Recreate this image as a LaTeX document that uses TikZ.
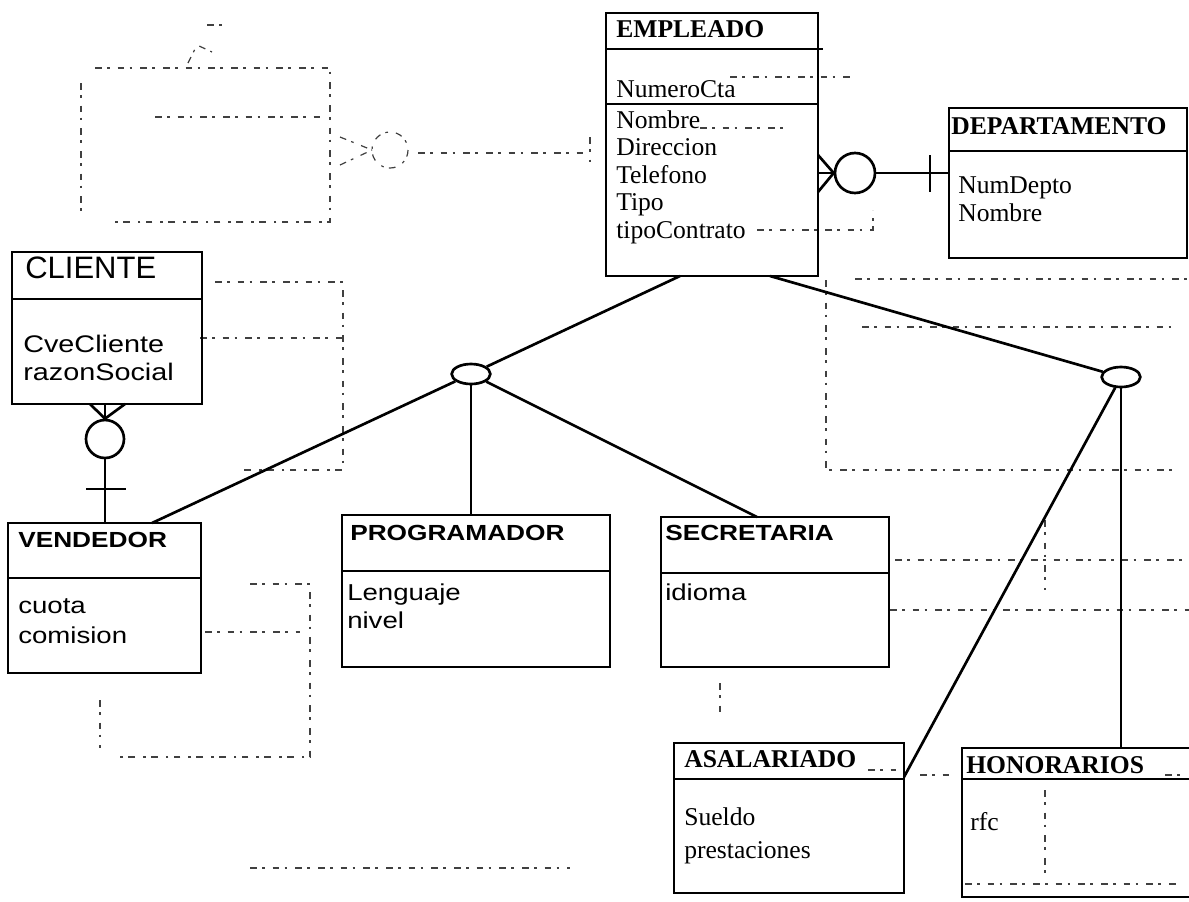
\documentclass[tikz,border=0pt]{standalone}
\usepackage{fontspec}
\setmainfont{Liberation Serif}
\newfontfamily\sansw[FakeStretch=1.2]{Liberation Sans}
\newfontfamily\sansn{Liberation Sans}
\usetikzlibrary{fit,shapes.geometric}

\tikzset{
  ent/.style={draw, line width=2pt, inner sep=0pt, rectangle},
  sepline/.style={line width=1.8pt},
  conn/.style={line width=2pt},
  joint/.style={draw, ellipse, line width=2pt, inner sep=0pt, minimum width=29pt, minimum height=15pt},
  ring/.style={draw, circle, line width=2pt, inner sep=0pt},
  tser/.style={anchor=base west, inner sep=0pt, font=\fontsize{19.2}{23}\selectfont},
  tserb/.style={anchor=base west, inner sep=0pt, font=\fontsize{19.2}{23}\selectfont\bfseries},
  tsan/.style={anchor=base west, inner sep=0pt, font=\sansw\fontsize{17.25}{21}\selectfont},
  tsanb/.style={anchor=base west, inner sep=0pt, font=\sansw\bfseries\fontsize{16.4}{20}\selectfont},
  ghost/.style={line width=0.9pt, black!75, dash pattern=on 5pt off 4pt on 2pt off 6pt},
}

\begin{document}
\begin{tikzpicture}[x=0.75pt,y=-0.75pt]
\useasboundingbox (0,0) rectangle (1189,901);
\begin{scope}
\clip (0,0) rectangle (1189,901);

% ---------- faint dashed traces ----------
% upper left frame with ring and foot
\draw[ghost] (95,68) -- (330,68) -- (330,222) -- (113,222);
\draw[ghost] (81,83) -- (81,212);
\draw[ghost] (155,117) -- (325,117);
\draw[ghost] (188,63) -- (197,45) -- (212,52);
\draw[ghost] (207,25) -- (225,25);
\draw[ghost] (340,137) -- (372,150);
\draw[ghost] (340,165) -- (372,150);
\draw[ghost] (390,150) circle[radius=18];
\draw[ghost] (418,153) -- (588,153);
\draw[ghost] (590,137) -- (590,162);
% frame beside CLIENTE
\draw[ghost] (215,282) -- (343,282) -- (343,470) -- (240,470);
\draw[ghost] (200,338) -- (343,338);
% frame beside VENDEDOR
\draw[ghost] (250,584) -- (310,584) -- (310,757) -- (118,757);
\draw[ghost] (205,632) -- (300,632);
\draw[ghost] (100,700) -- (100,748);
% frame on the right
\draw[ghost] (855,279) -- (1189,279);
\draw[ghost] (826,280) -- (826,470) -- (1178,470);
\draw[ghost] (862,327) -- (1178,327);
\draw[ghost] (895,560) -- (1189,560);
\draw[ghost] (890,610) -- (1189,610);
\draw[ghost] (1045,520) -- (1045,590);
% traces next to EMPLEADO
\draw[ghost] (730,77) -- (850,77);
\draw[ghost] (700,128) -- (790,128);
\draw[ghost] (757,230) -- (873,230) -- (873,210);
% lower traces
\draw[ghost] (250,868) -- (570,868);
\draw[ghost] (720,683) -- (720,712);
\draw[ghost] (868,770) -- (896,770);
\draw[ghost] (920,775) -- (952,775);
\draw[ghost] (1165,775) -- (1185,775);
\draw[ghost] (1045,790) -- (1045,875);
\draw[ghost] (965,884) -- (1180,884);

% ---------- entity boxes ----------
\node[ent, fit={(606,13) (818,276)}] (emp) {};
\draw[sepline] (606,49) -- (823,49);
\draw[sepline] (606,104) -- (818,104);

\node[ent, fit={(949,108) (1187,258)}] (dep) {};
\draw[sepline] (949,151) -- (1187,151);

\node[ent, fit={(12,252) (202,404)}] (cli) {};
\draw[sepline] (12,299) -- (202,299);

\node[ent, fit={(8,523) (201,673)}] (ven) {};
\draw[sepline] (8,578) -- (201,578);

\node[ent, fit={(342,515) (610,667)}] (prog) {};
\draw[sepline] (342,571) -- (610,571);

\node[ent, fit={(661,517) (889,667)}] (sec) {};
\draw[sepline] (661,573) -- (889,573);

\node[ent, fit={(674,743) (904,893)}] (asa) {};
\draw[sepline] (674,779) -- (904,779);

\node[ent, fit={(962,748) (1196,897)}] (hon) {};
\draw[sepline] (962,779) -- (1196,779);

% ---------- texts ----------
\node[tserb] (empT) at (616,37) {EMPLEADO};
\node[tser] (empK) at (616,97) {NumeroCta};
\node[tser] (empA1) at (616,128) {Nombre};
\node[tser] (empA2) at (616,155.5) {Direccion};
\node[tser] (empA3) at (616,183) {Telefono};
\node[tser] (empA4) at (616,210.5) {Tipo};
\node[tser] (empA5) at (616,238) {tipoContrato};

\node[tserb] (depT) at (951,134) {DEPARTAMENTO};
\node[tser] (depA1) at (958,193) {NumDepto};
\node[tser] (depA2) at (958,221) {Nombre};

\node[anchor=base west, inner sep=0pt, font=\sansn\fontsize{23.25}{27}\selectfont] (cliT) at (25,278) {CLIENTE};
\node[tsan, font=\sansw\fontsize{18}{21}\selectfont] (cliA1) at (23,352) {CveCliente};
\node[tsan, font=\sansw\fontsize{18}{21}\selectfont] (cliA2) at (23,380) {razonSocial};

\node[tsanb] (venT) at (18,547) {VENDEDOR};
\node[tsan] (venA1) at (18,613) {cuota};
\node[tsan] (venA2) at (18,643) {comision};

\node[tsanb] (progT) at (350,540) {PROGRAMADOR};
\node[tsan] (progA1) at (347,600) {Lenguaje};
\node[tsan] (progA2) at (347,628) {nivel};

\node[tsanb] (secT) at (665,540) {SECRETARIA};
\node[tsan] (secA1) at (665,600) {idioma};

\node[tserb] (asaT) at (684,767) {ASALARIADO};
\node[tser] (asaA1) at (684,825) {Sueldo};
\node[tser] (asaA2) at (684,858) {prestaciones};

\node[tserb] (honT) at (966,773) {HONORARIOS};
\node[tser] (honA1) at (970,830) {rfc};

% ---------- EMPLEADO -- DEPARTAMENTO relationship ----------
\node[ring, minimum size=30pt] (r1) at (855,173) {};
\coordinate (r1a) at (818,155);
\coordinate (r1b) at (818,173);
\coordinate (r1c) at (818,192);
\draw[conn] (r1a) -- (r1.west);
\draw[conn] (r1b) -- (r1.west);
\draw[conn] (r1c) -- (r1.west);
\draw[conn] (r1.east) -- (dep.west |- r1.east);
\draw[conn] (930,155) -- (930,192);

% ---------- CLIENTE -- VENDEDOR relationship ----------
\node[ring, minimum size=28.5pt] (r2) at (105,439) {};
\coordinate (r2a) at (90,404);
\coordinate (r2b) at (105,404);
\coordinate (r2c) at (125,404);
\draw[conn] (r2a) -- (r2.north);
\draw[conn] (r2b) -- (r2.north);
\draw[conn] (r2c) -- (r2.north);
\draw[conn] (r2.south) -- (ven.north -| r2.south);
\draw[conn] (86,489) -- (126,489);

% ---------- specialisation by role ----------
\node[joint] (g1) at (471,374) {};
\coordinate (empL) at (680,276);
\coordinate (venTop) at (152,523);
\coordinate (secTop) at (757,517);
\draw[conn] (empL) -- (g1);
\draw[conn] (g1) -- (venTop);
\draw[conn] (g1.south) -- (prog.north -| g1.south);
\draw[conn] (g1) -- (secTop);

% ---------- specialisation by contract ----------
\node[joint] (g2) at (1121,377) {};
\coordinate (empR) at (770,276);
\coordinate (asaEnd) at (904,777);
\draw[conn] (empR) -- (g2);
\draw[conn] (g2) -- (asaEnd);
\draw[conn] (g2.south) -- (hon.north -| g2.south);

\end{scope}
\end{tikzpicture}
\end{document}
